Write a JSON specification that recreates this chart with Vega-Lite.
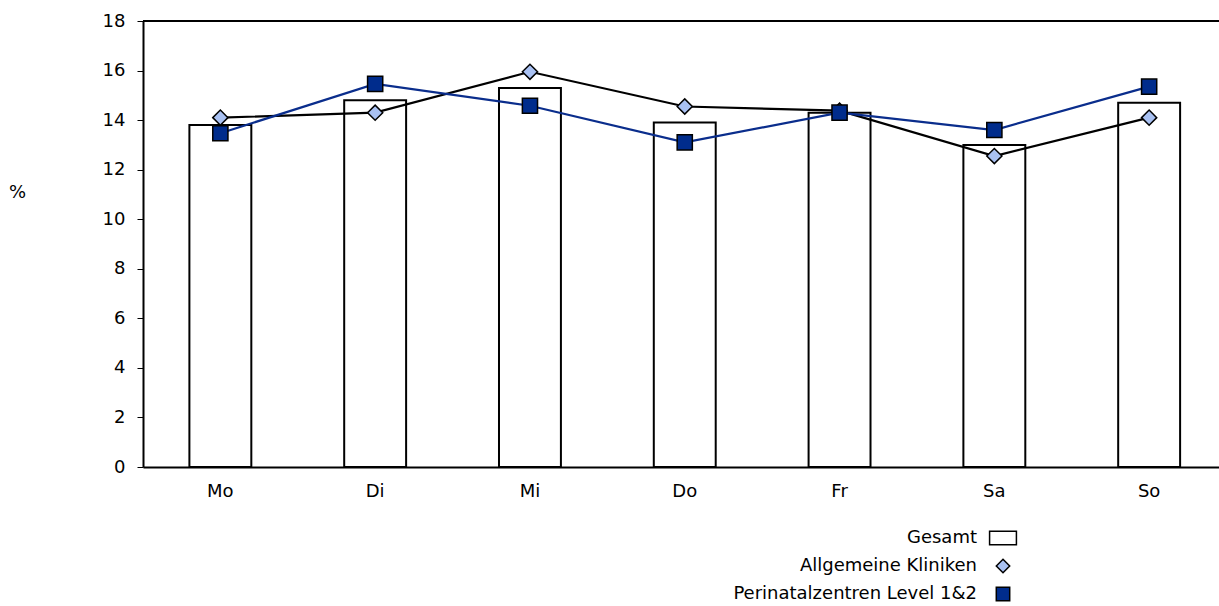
{
  "$schema": "https://vega.github.io/schema/vega-lite/v6.json",
  "autosize": {"type": "none"},
  "padding": {"left": 143, "top": 21, "right": 0, "bottom": 139},
  "width": 1076,
  "height": 446,
  "background": "white",
  "config": {
    "font": "DejaVu Sans",
    "view": {"stroke": null},
    "axis": {"grid": false, "labelColor": "black", "domainColor": "black", "tickColor": "black", "labelFontSize": 18, "labelFont": "DejaVu Sans"},
    "legend": {"labelFont": "DejaVu Sans"}
  },
  "data": {"values": [
    {"day": "Mo", "series": "Gesamt", "value": 13.8},
    {"day": "Di", "series": "Gesamt", "value": 14.8},
    {"day": "Mi", "series": "Gesamt", "value": 15.3},
    {"day": "Do", "series": "Gesamt", "value": 13.9},
    {"day": "Fr", "series": "Gesamt", "value": 14.3},
    {"day": "Sa", "series": "Gesamt", "value": 13.0},
    {"day": "So", "series": "Gesamt", "value": 14.7},
    {"day": "Mo", "series": "Allgemeine Kliniken", "value": 14.1},
    {"day": "Di", "series": "Allgemeine Kliniken", "value": 14.3},
    {"day": "Mi", "series": "Allgemeine Kliniken", "value": 15.95},
    {"day": "Do", "series": "Allgemeine Kliniken", "value": 14.55},
    {"day": "Fr", "series": "Allgemeine Kliniken", "value": 14.38},
    {"day": "Sa", "series": "Allgemeine Kliniken", "value": 12.55},
    {"day": "So", "series": "Allgemeine Kliniken", "value": 14.1},
    {"day": "Mo", "series": "Perinatalzentren Level 1&2", "value": 13.47},
    {"day": "Di", "series": "Perinatalzentren Level 1&2", "value": 15.46},
    {"day": "Mi", "series": "Perinatalzentren Level 1&2", "value": 14.58},
    {"day": "Do", "series": "Perinatalzentren Level 1&2", "value": 13.1},
    {"day": "Fr", "series": "Perinatalzentren Level 1&2", "value": 14.3},
    {"day": "Sa", "series": "Perinatalzentren Level 1&2", "value": 13.6},
    {"day": "So", "series": "Perinatalzentren Level 1&2", "value": 15.35}
  ]},
  "encoding": {
    "x": {
      "field": "day", "type": "nominal", "sort": ["Mo", "Di", "Mi", "Do", "Fr", "Sa", "So"],
      "scale": {"paddingInner": 0.6, "paddingOuter": 0.2755, "align": 0.544},
      "axis": {"title": null, "labelAngle": 0, "ticks": false, "domainWidth": 2, "labelPadding": 15}
    },
    "y": {
      "field": "value", "type": "quantitative",
      "scale": {"domain": [0, 18], "nice": false},
      "axis": {"title": "%", "titleAngle": 0, "titleFontSize": 18, "titleFontWeight": "normal", "titleFont": "DejaVu Sans", "titleX": -126, "titleY": 171, "titleAlign": "center", "titleBaseline": "middle", "values": [0, 2, 4, 6, 8, 10, 12, 14, 16, 18], "tickSize": 6, "tickWidth": 1, "domainWidth": 2, "labelPadding": 12}
    }
  },
  "layer": [
    {
      "mark": {"type": "rule", "stroke": "black", "strokeWidth": 2},
      "encoding": {"y": {"datum": 18}, "x": null}
    },
    {
      "transform": [{"filter": "datum.series === 'Gesamt'"}],
      "mark": {"type": "bar", "fill": "white", "stroke": "black", "strokeWidth": 2}
    },
    {
      "transform": [{"filter": "datum.series !== 'Gesamt'"}],
      "mark": {"type": "line", "strokeWidth": 2.2},
      "encoding": {
        "stroke": {"field": "series", "type": "nominal", "scale": {"domain": ["Allgemeine Kliniken", "Perinatalzentren Level 1&2"], "range": ["black", "#0a2d8c"]}, "legend": null}
      }
    },
    {
      "transform": [{"filter": "datum.series !== 'Gesamt'"}],
      "mark": {"type": "point", "filled": true, "opacity": 1, "stroke": "black", "strokeWidth": 1.5, "size": 230},
      "encoding": {
        "fill": {"field": "series", "type": "nominal", "scale": {"domain": ["Gesamt", "Allgemeine Kliniken", "Perinatalzentren Level 1&2"], "range": ["white", "#a9c1f2", "#002c8c"]},
          "legend": {"title": null, "orient": "none", "legendX": 851, "legendY": 508, "padding": 0, "labelAlign": "right", "labelOffset": -35, "labelFontSize": 18, "labelFont": "DejaVu Sans", "labelLimit": 400, "labelColor": "black", "symbolSize": 180, "symbolStrokeColor": "black", "symbolStrokeWidth": 1.5, "rowPadding": 8}},
        "shape": {"field": "series", "type": "nominal", "scale": {"domain": ["Gesamt", "Allgemeine Kliniken", "Perinatalzentren Level 1&2"], "range": ["M-2,-1H2V1H-2Z", "diamond", "square"]}}
      }
    }
  ]
}
